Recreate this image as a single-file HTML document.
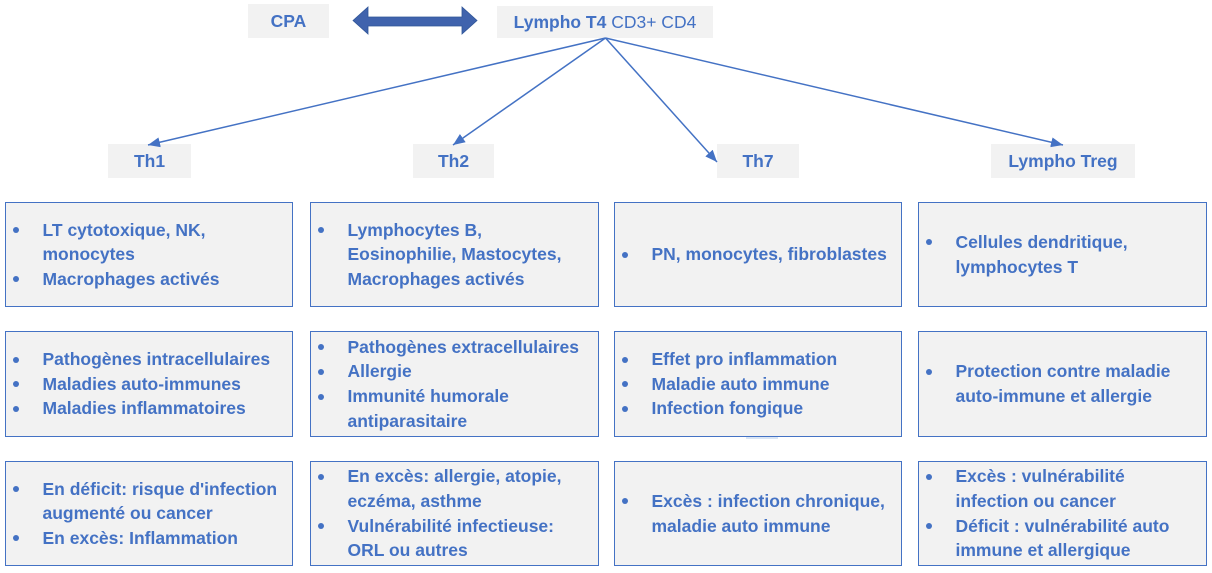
<!DOCTYPE html>
<html>
<head>
<meta charset="utf-8">
<style>
  html,body{margin:0;padding:0;background:#fff;}
  body{width:1212px;height:573px;position:relative;overflow:hidden;
       font-family:"Liberation Sans", Arial, sans-serif;color:#4472C4;}
  .lbl{position:absolute;background:#F2F2F2;display:flex;align-items:center;justify-content:center;
       font-weight:bold;font-size:17.5px;white-space:nowrap;}
  .box{position:absolute;box-sizing:border-box;border:1.5px solid #4472C4;background:#F2F2F2;
       display:flex;flex-direction:column;justify-content:center;
       font-weight:bold;font-size:17.5px;line-height:24.6px;}
  .item{position:relative;padding-left:36.5px;white-space:nowrap;}
  .item::before{content:"";position:absolute;left:6.5px;top:9.5px;width:6px;height:6px;
       border-radius:50%;background:#4472C4;}
  svg{position:absolute;left:0;top:0;}
</style>
</head>
<body>

<!-- top labels -->
<div class="lbl" style="left:248px;top:4px;width:81px;height:34px;">CPA</div>
<div class="lbl" style="left:497px;top:6px;width:216px;height:32px;"><span>Lympho T4</span><span style="font-weight:normal">&nbsp;CD3+ CD4</span></div>

<!-- second-level labels -->
<div class="lbl" style="left:108px;top:144px;width:83px;height:34px;">Th1</div>
<div class="lbl" style="left:413px;top:144px;width:81px;height:34px;">Th2</div>
<div class="lbl" style="left:717px;top:144px;width:82px;height:34px;">Th7</div>
<div class="lbl" style="left:991px;top:144px;width:144px;height:34px;">Lympho Treg</div>

<svg width="1212" height="573" viewBox="0 0 1212 573">
  <defs>
    <marker id="ah" markerUnits="userSpaceOnUse" markerWidth="13" markerHeight="10" refX="12" refY="5" orient="auto">
      <path d="M0,0 L12,5 L0,10 z" fill="#4472C4"/>
    </marker>
  </defs>
  <polygon points="353,20.5 368,7 368,17 462,17 462,7 477,20.5 462,34 462,26 368,26 368,34"
           fill="#4063AD" stroke="#2F5597" stroke-width="0.8"/>
  <g stroke="#4472C4" stroke-width="1.5" fill="none">
    <line x1="605.5" y1="38" x2="148" y2="145" marker-end="url(#ah)"/>
    <line x1="605.5" y1="38" x2="453" y2="145" marker-end="url(#ah)"/>
    <line x1="605.5" y1="38" x2="717" y2="162" marker-end="url(#ah)"/>
    <line x1="605.5" y1="38" x2="1063" y2="145" marker-end="url(#ah)"/>
  </g>
</svg>

<!-- Row 1 -->
<div class="box" style="left:5px;top:202px;width:288px;height:105px;">
  <div class="item">LT cytotoxique, NK,<br>monocytes</div>
  <div class="item">Macrophages activés</div>
</div>
<div class="box" style="left:310px;top:202px;width:289px;height:105px;">
  <div class="item">Lymphocytes B,<br>Eosinophilie, Mastocytes,<br>Macrophages activés</div>
</div>
<div class="box" style="left:614px;top:202px;width:288px;height:105px;">
  <div class="item">PN, monocytes, fibroblastes</div>
</div>
<div class="box" style="left:918px;top:202px;width:289px;height:105px;">
  <div class="item">Cellules dendritique,<br>lymphocytes T</div>
</div>

<!-- Row 2 -->
<div class="box" style="left:5px;top:331px;width:288px;height:106px;">
  <div class="item">Pathogènes intracellulaires</div>
  <div class="item">Maladies auto-immunes</div>
  <div class="item">Maladies inflammatoires</div>
</div>
<div class="box" style="left:310px;top:331px;width:289px;height:106px;">
  <div class="item">Pathogènes extracellulaires</div>
  <div class="item">Allergie</div>
  <div class="item">Immunité humorale<br>antiparasitaire</div>
</div>
<div class="box" style="left:614px;top:331px;width:288px;height:106px;">
  <div class="item">Effet pro inflammation</div>
  <div class="item">Maladie auto immune</div>
  <div class="item">Infection fongique</div>
</div>
<div class="box" style="left:918px;top:331px;width:289px;height:106px;">
  <div class="item">Protection contre maladie<br>auto-immune et allergie</div>
</div>
<div style="position:absolute;left:746px;top:437px;width:32px;height:2px;background:#D9E5F5;"></div>

<!-- Row 3 -->
<div class="box" style="left:5px;top:461px;width:288px;height:105px;">
  <div class="item">En déficit: risque d'infection<br>augmenté ou cancer</div>
  <div class="item">En excès: Inflammation</div>
</div>
<div class="box" style="left:310px;top:461px;width:289px;height:105px;">
  <div class="item">En excès: allergie, atopie,<br>eczéma, asthme</div>
  <div class="item">Vulnérabilité infectieuse:<br>ORL ou autres</div>
</div>
<div class="box" style="left:614px;top:461px;width:288px;height:105px;">
  <div class="item">Excès : infection chronique,<br>maladie auto immune</div>
</div>
<div class="box" style="left:918px;top:461px;width:289px;height:105px;">
  <div class="item">Excès : vulnérabilité<br>infection ou cancer</div>
  <div class="item">Déficit : vulnérabilité auto<br>immune et allergique</div>
</div>

</body>
</html>
